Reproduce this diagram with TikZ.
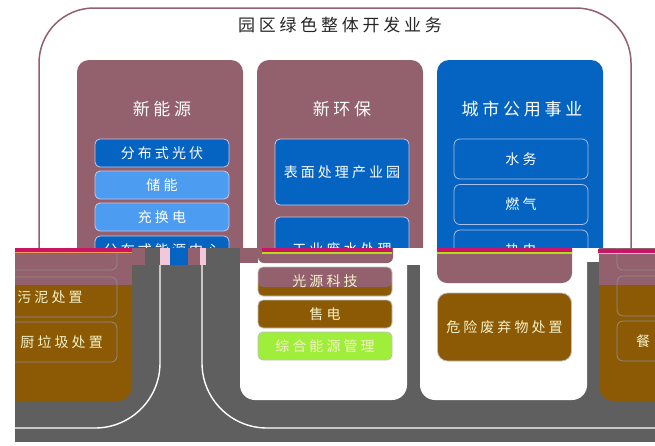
\documentclass[tikz,border=0pt]{standalone}
\usepackage{fontspec}
\setmainfont{Noto Sans CJK SC}
\newfontfamily\cjksp{Noto Sans CJK SC}[LetterSpace=22]
\definecolor{maroonx}{HTML}{93606E}
\definecolor{dblue}{HTML}{0563C1}
\definecolor{lblue}{HTML}{4C9CF2}
\definecolor{brownx}{HTML}{8C5A05}
\definecolor{greenx}{HTML}{A0EE3C}
\definecolor{grayx}{HTML}{5F5F5F}
\definecolor{glitch}{HTML}{CC1466}
\definecolor{cream}{HTML}{F5F2C8}
\definecolor{lav}{HTML}{C8C8E6}
\definecolor{bluebord}{HTML}{A6BEE8}
\definecolor{pinkx}{HTML}{F2C8D8}
\tikzset{
  titletext/.style={text=black!85, font=\cjksp\fontsize{17}{20}\selectfont, inner sep=0pt},
  coltitle/.style={text=white, font=\cjksp\fontsize{17}{20}\selectfont, inner sep=0pt},
  colbox/.style={rounded corners=12pt, minimum width=166pt, minimum height=200pt, inner sep=0pt},
  subbox/.style={draw=lav, line width=0.8pt, rounded corners=5pt, minimum width=134pt, inner sep=0pt, text=white, font=\cjksp\fontsize{14}{16}\selectfont},
  linebox/.style={draw=bluebord, line width=0.8pt, rounded corners=6pt, minimum width=134pt, minimum height=40pt, inner sep=0pt, text=white, font=\cjksp\fontsize{14}{16}\selectfont},
  lowbox/.style={draw=black!25, line width=0.8pt, rounded corners=5pt, minimum width=134pt, inner sep=0pt, text=cream, font=\cjksp\fontsize{14}{16}\selectfont},
  lowtext/.style={text=cream, font=\cjksp\fontsize{14}{16}\selectfont, inner sep=0pt},
  outl/.style={draw=black!45, line width=0.8pt, rounded corners=6pt},
  roadline/.style={draw=white, line width=1.4pt},
}
\begin{document}
\begin{tikzpicture}[x=1pt,y=-1pt]
\useasboundingbox (0,0) rectangle (655,445);
\fill[white] (0,0) rectangle (655,445);
% ---------- upper part ----------
\draw[maroonx, line width=1.5pt, rounded corners=55pt] (39,8) rectangle (631,320);
\node[titletext] (title) at (340,25) {园区绿色整体开发业务};
\node[colbox, fill=maroonx] (c1) at (160,160) {};
\node[colbox, fill=maroonx] (c2) at (340,160) {};
\node[colbox, fill=dblue] (c3) at (520,160) {};
\node[coltitle] (t1) at (162,109) {新能源};
\node[coltitle] (t2) at (342,109) {新环保};
\node[coltitle] (t3) at (522,109) {城市公用事业};
\node[subbox, fill=dblue, minimum height=28pt] (a1) at (162,153) {分布式光伏};
\node[subbox, fill=lblue, minimum height=28pt] (a2) at (162,185) {储能};
\node[subbox, fill=lblue, minimum height=28pt] (a3) at (162,217) {充换电};
\node[subbox, fill=dblue, minimum height=28pt] (a4) at (162,250) {分布式能源中心};
\node[subbox, fill=dblue, minimum height=66pt] (b1) at (342,172) {表面处理产业园};
\node[subbox, fill=dblue, minimum height=64pt] (b2) at (342,249) {工业废水处理};
\node[linebox] (d1) at (521,159) {水务};
\node[linebox] (d2) at (521,204.5) {燃气};
\node[linebox] (d3) at (521,250) {热电};
% ---------- lower part ----------
\fill[grayx] (15,248) rectangle (655,442);
\begin{scope}
\clip (15,248) rectangle (655,442);
% left brown block
\fill[brownx, rounded corners=15pt] (-34,200) rectangle (132,401);
\fill[maroonx] (-34,248) rectangle (132,285);
\draw[outl] (-18,232) rectangle (117,270);
\draw[outl] (-18,277) rectangle (117,317);
\draw[outl] (-18,322) rectangle (117,362);
\node[lowtext] (l1) at (50,297) {污泥处置};
\node[lowtext, anchor=east] (l2) at (103,342) {厨垃圾处置};
% right brown block
\fill[brownx, rounded corners=15pt] (599,200) rectangle (800,401);
\fill[maroonx] (599,248) rectangle (655,285);
\draw[outl] (617,232) rectangle (752,270);
\draw[outl] (617,276) rectangle (752,316);
\draw[outl] (617,321) rectangle (752,361);
\node[lowtext] (r2) at (643,341) {餐};
% panels
\fill[white, rounded corners=15pt] (240,200) rectangle (407,400);
\fill[white, rounded corners=15pt] (420,200) rectangle (587,400);
\fill[white] (407,248) rectangle (420,265);
\fill[white] (587,248) rectangle (599,262);
% panel 1 content
\fill[maroonx] (240,248) rectangle (258,263);
\fill[maroonx, rounded corners=6pt] (258,230) rectangle (393,263);
\node[lowbox, fill=brownx, minimum height=29pt,
  path picture={\fill[maroonx] (path picture bounding box.north west) rectangle ([yshift=9pt]path picture bounding box.south east);}] (p1) at (325,281.5) {光源科技};
\node[lowbox, fill=brownx, minimum height=28pt] (p2) at (325,314) {售电};
\node[lowbox, fill=greenx, minimum height=28pt] (p3) at (325,346) {综合能源管理};
% panel 2 content
\fill[maroonx, rounded corners=10pt] (437,230) rectangle (572,283);
\node[lowbox, fill=brownx, minimum height=68pt, rounded corners=10pt] (q1) at (504.5,327) {危险废弃物处置};
% road top stripes
\fill[maroonx] (132,248) rectangle (145,265);
\fill[pinkx] (160,248) rectangle (170,265);
\fill[dblue] (170,248) rectangle (188,265);
\fill[maroonx] (188,248) rectangle (200,265);
\fill[pinkx] (200,248) rectangle (206,265);
% road lines
\draw[roadline] (15,428) -- (95,428) .. controls (130.9,428) and (160,398.9) .. (160,363) -- (160,265);
\draw[roadline] (202,265) -- (202,363) .. controls (202,398.9) and (231.1,428) .. (267,428) -- (655,428);
% glitch band
\fill[glitch] (15,248) rectangle (132,251.5);
\fill[orange!60!pinkx] (15,251.5) rectangle (132,253);
\fill[glitch] (262,248) rectangle (392,253);
\fill[yellow!70!green] (262,252) rectangle (392,253.5);
\fill[glitch] (437,248) rectangle (572,253);
\fill[yellow!70!green] (437,252) rectangle (572,253.5);
\fill[glitch] (598,249) rectangle (655,252.5);
\fill[yellow!80!orange] (598,252.5) rectangle (655,254);
\end{scope}
\end{tikzpicture}
\end{document}
